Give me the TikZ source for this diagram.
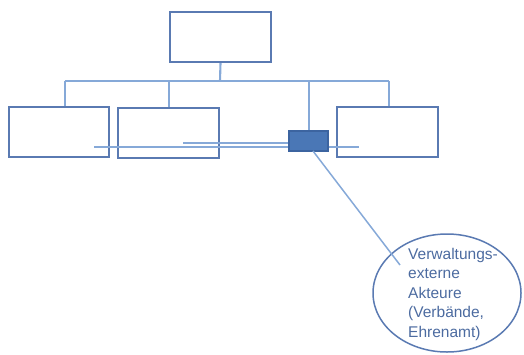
\documentclass[tikz,border=0pt]{standalone}
\usepackage{fontspec}
\setmainfont{Liberation Sans}
\usetikzlibrary{shapes.geometric}
\definecolor{boxline}{HTML}{5A7AB2}
\definecolor{linkline}{HTML}{86A9D8}
\definecolor{unitfill}{HTML}{4A77B6}
\definecolor{unitline}{HTML}{3C64A0}
\definecolor{labeltext}{HTML}{4C6BA0}
\begin{document}
\begin{tikzpicture}[x=1pt,y=-1pt,
  orgbox/.style={draw=boxline,line width=2.2pt,fill=white,rectangle,
    minimum width=101pt,minimum height=50pt,inner sep=0pt},
  unitbox/.style={draw=unitline,line width=1.4pt,fill=unitfill,rectangle,
    minimum width=39pt,minimum height=20pt,inner sep=0pt},
  link/.style={draw=linkline,line width=2.1pt},
  actor/.style={draw=boxline,line width=1.5pt,ellipse,
    minimum width=148pt,minimum height=118pt,inner sep=0pt},
  actortext/.style={text=labeltext,align=left,inner sep=0pt,
    font=\fontsize{15.5}{19.5}\selectfont}]
  \useasboundingbox (0,0) rectangle (524,354);

  % hierarchy boxes
  \node[orgbox] (top) at (220.5,37) {};
  \node[orgbox,minimum width=100pt] (b1) at (59,132) {};
  \node[orgbox] (b2) at (168.5,133) {};
  \node[orgbox] (b4) at (387.5,132) {};

  % bus between the levels
  \coordinate (busC) at (220,81);
  \coordinate (busL) at (65,81);
  \coordinate (busM) at (169,81);
  \coordinate (busU) at (309,81);
  \coordinate (busR) at (389,81);
  \draw[link] (top.south) -- (busC);
  \draw[link] (busL) -- (busR);
  \draw[link] (busL) -- (busL |- b1.north);
  \draw[link] (busM) -- (busM |- b2.north);
  \draw[link] (busR) -- (busR |- b4.north);

  % cross links running through the lower boxes
  \coordinate (xA) at (94,147);
  \coordinate (xB) at (359,147);
  \coordinate (xC) at (183,143);
  \coordinate (xD) at (300,143);
  \draw[link] (xA) -- (xB);
  \draw[link] (xC) -- (xD);

  % small unit on the bus
  \node[unitbox] (unit) at (308.5,141) {};
  \draw[link] (busU) -- (unit.north -| busU);

  % external actors
  \node[actor] (ext) at (447,293) {};
  \coordinate (extIn) at (400,265);
  \draw[link,line width=1.5pt] (313,151) coordinate (uOut) -- (extIn);
  \node[actortext,anchor=north west] (extlabel) at (408,248)
    {Verwaltungs-\\externe\\Akteure\\(Verbände,\\Ehrenamt)};
\end{tikzpicture}
\end{document}
